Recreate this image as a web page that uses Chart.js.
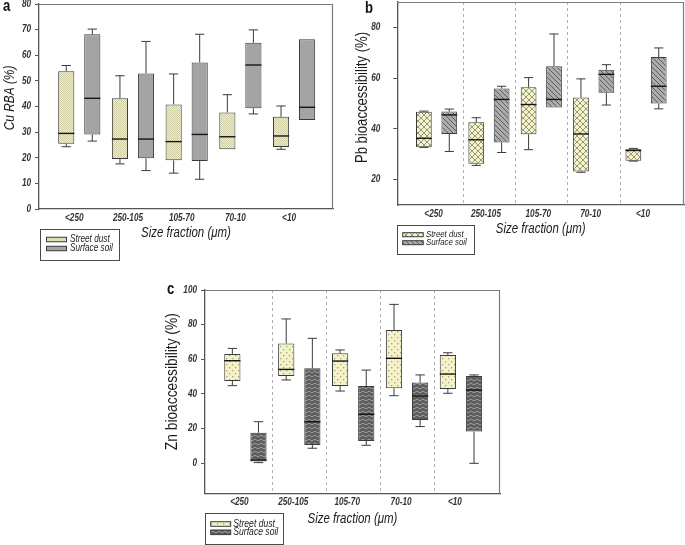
<!DOCTYPE html>
<html><head><meta charset="utf-8">
<script src="https://cdn.jsdelivr.net/npm/chart.js@4.4.0/dist/chart.umd.min.js"></script>
<style>
html,body{margin:0;padding:0;background:#fff;width:685px;height:545px;overflow:hidden;position:relative}
canvas{position:absolute}
</style></head><body>
<canvas id="ca"></canvas><canvas id="cb"></canvas><canvas id="cc"></canvas>
<script>
// ---------------- data ----------------
const categories = ['<250', '250-105', '105-70', '70-10', '<10'];
const seriesNames = ['Street dust', 'Surface soil'];
const xTitle = 'Size fraction (μm)';

// (a) Cu RBA (%)
const cuDustMin = [24.3, 17.6, 14.0, 23.3, 23.3];
const cuDustQ1  = [25.5, 19.5, 19.0, 23.3, 24.2];
const cuDustMed = [29.5, 27.3, 26.3, 28.2, 28.5];
const cuDustQ3  = [53.8, 43.2, 40.8, 37.7, 36.0];
const cuDustMax = [56.0, 52.0, 52.7, 44.6, 40.2];
const cuSoilMin = [26.5, 15.0, 11.6, 37.1, 34.7];
const cuSoilQ1  = [29.1, 19.8, 18.7, 39.3, 34.7];
const cuSoilMed = [43.2, 27.3, 29.1, 56.2, 39.7];
const cuSoilQ3  = [68.2, 52.9, 57.2, 64.9, 66.2];
const cuSoilMax = [70.2, 65.4, 68.2, 69.9, 66.2];
const cuTicks = [0, 10, 20, 30, 40, 50, 60, 70, 80];

// (b) Pb bioaccessibility (%)
const pbDustMin = [32.7, 25.6, 31.8, 22.9, 27.3];
const pbDustQ1  = [32.8, 26.3, 37.9, 23.2, 27.4];
const pbDustMed = [36.3, 35.7, 49.6, 38.0, 31.5];
const pbDustQ3  = [46.7, 42.6, 56.4, 52.4, 32.0];
const pbDustMax = [47.0, 44.4, 60.2, 59.7, 32.3];
const pbSoilMin = [31.1, 30.7, 48.4, 49.4, 47.9];
const pbSoilQ1  = [38.0, 34.6, 48.4, 54.2, 50.0];
const pbSoilMed = [45.5, 51.6, 51.6, 61.5, 56.8];
const pbSoilQ3  = [46.8, 55.9, 64.7, 63.3, 68.3];
const pbSoilMax = [47.8, 56.8, 77.4, 65.3, 71.9];
const pbTicks = [20, 40, 60, 80];

// (c) Zn bioaccessibility (%)
const znDustMin = [44.8, 48.1, 41.7, 39.0, 40.4];
const znDustQ1  = [47.5, 50.4, 44.6, 43.3, 42.9];
const znDustMed = [59.2, 54.2, 59.0, 60.6, 51.5];
const znDustQ3  = [63.1, 69.2, 63.5, 76.9, 62.5];
const znDustMax = [66.3, 83.3, 65.4, 91.7, 63.8];
const znSoilMin = [0.4, 8.7, 10.4, 21.2, 0.0];
const znSoilQ1  = [1.0, 10.6, 12.9, 25.0, 18.3];
const znSoilMed = [1.9, 24.0, 28.3, 38.8, 42.3];
const znSoilQ3  = [17.7, 54.8, 44.6, 46.7, 50.4];
const znSoilMax = [24.0, 72.1, 53.8, 51.0, 51.0];
const znTicks = [0, 20, 40, 60, 80, 100];

// ---------------- condensed text rendering (reference uses a narrow face) ----------------
const SQUEEZE = 0.82;
const _fillText = CanvasRenderingContext2D.prototype.fillText;
CanvasRenderingContext2D.prototype.fillText = function (t, x, y, mw) {
  this.save();
  this.translate(x, y);
  this.scale(SQUEEZE, 1);
  if (mw !== undefined && mw !== null) _fillText.call(this, t, 0, 0, mw / SQUEEZE);
  else _fillText.call(this, t, 0, 0);
  this.restore();
};
const _measureText = CanvasRenderingContext2D.prototype.measureText;
CanvasRenderingContext2D.prototype.measureText = function (t) {
  const m = _measureText.call(this, t);
  return {
    width: m.width * SQUEEZE,
    actualBoundingBoxAscent: m.actualBoundingBoxAscent,
    actualBoundingBoxDescent: m.actualBoundingBoxDescent,
    actualBoundingBoxLeft: m.actualBoundingBoxLeft * SQUEEZE,
    actualBoundingBoxRight: m.actualBoundingBoxRight * SQUEEZE
  };
};

// ---------------- styling helpers ----------------
const FONT = "'Liberation Sans',Arial,sans-serif";
Chart.defaults.font.family = FONT;

function makePattern(w, h, draw) {
  const c = document.createElement('canvas');
  c.width = w; c.height = h;
  const g = c.getContext('2d');
  draw(g, w, h);
  return g.createPattern(c, 'repeat');
}
const patDustA = makePattern(2, 2, (g) => {
  g.fillStyle = '#f1efc4'; g.fillRect(0, 0, 2, 2);
  g.fillStyle = '#cfcda4'; g.fillRect(0, 0, 1, 1); g.fillRect(1, 1, 1, 1);
});
const patSoilA = '#a4a4a4';
const patDustB = makePattern(6, 6, (g) => {
  g.fillStyle = '#f5f3c8'; g.fillRect(0, 0, 6, 6);
  g.strokeStyle = '#8e8c72'; g.lineWidth = 0.9;
  g.beginPath(); g.moveTo(0, 0); g.lineTo(6, 6); g.moveTo(6, 0); g.lineTo(0, 6); g.stroke();
});
const patSoilB = makePattern(5, 5, (g) => {
  g.fillStyle = '#ababab'; g.fillRect(0, 0, 5, 5);
  g.strokeStyle = '#565656'; g.lineWidth = 0.9;
  g.beginPath(); g.moveTo(-1, -1); g.lineTo(6, 6); g.moveTo(4, -1); g.lineTo(6, 1); g.moveTo(-1, 4); g.lineTo(1, 6); g.stroke();
});
const patDustC = makePattern(6, 6, (g) => {
  g.fillStyle = '#f5f3c6'; g.fillRect(0, 0, 6, 6);
  g.fillStyle = '#a4a288';
  g.fillRect(1, 1, 1.3, 1.3); g.fillRect(4, 4, 1.3, 1.3);
});
const patSoilC = makePattern(6, 4, (g) => {
  g.fillStyle = '#5c5c5c'; g.fillRect(0, 0, 6, 4);
  g.strokeStyle = '#a9a9a9'; g.lineWidth = 0.9;
  g.beginPath(); g.moveTo(0, 3); g.lineTo(3, 1); g.lineTo(6, 3); g.stroke();
});

// ---------------- box-plot plugin ----------------
const boxPlugin = {
  id: 'boxplot',
  beforeDatasetsDraw(chart, args, opts) {
    const { ctx, chartArea: a } = chart;
    ctx.save();
    if (opts.dividers) {
      const xs = chart.scales.x;
      ctx.setLineDash([3, 3]);
      ctx.strokeStyle = '#b0b0b0'; ctx.lineWidth = 1;
      for (let i = 0; i < categories.length - 1; i++) {
        const px = Math.round(xs.getPixelForValue(i + 0.5)) + 0.5;
        ctx.beginPath(); ctx.moveTo(px, a.top); ctx.lineTo(px, a.bottom); ctx.stroke();
      }
      ctx.setLineDash([]);
    }
    ctx.strokeStyle = '#7c7c7c'; ctx.lineWidth = 1.2;
    ctx.beginPath();
    ctx.moveTo(a.left, a.top + 0.5); ctx.lineTo(a.right - 0.5, a.top + 0.5); ctx.lineTo(a.right - 0.5, a.bottom);
    ctx.stroke();
    ctx.restore();
  },
  afterDatasetsDraw(chart) {
    const { ctx } = chart;
    const ys = chart.scales.y;
    ctx.save();
    chart.data.datasets.forEach((ds, di) => {
      const meta = chart.getDatasetMeta(di);
      const st = ds.stats;
      meta.data.forEach((bar, i) => {
        const x = bar.x, w = bar.width, cw = w * 0.58;
        const pMin = ys.getPixelForValue(st.min[i]);
        const pQ1 = ys.getPixelForValue(st.q1[i]);
        const pMed = ys.getPixelForValue(st.med[i]);
        const pQ3 = ys.getPixelForValue(st.q3[i]);
        const pMax = ys.getPixelForValue(st.max[i]);
        ctx.strokeStyle = '#3a3a3a'; ctx.lineWidth = 1;
        ctx.beginPath();
        if (st.max[i] > st.q3[i]) {
          ctx.moveTo(x, pQ3); ctx.lineTo(x, pMax);
          ctx.moveTo(x - cw / 2, pMax); ctx.lineTo(x + cw / 2, pMax);
        }
        if (st.min[i] < st.q1[i]) {
          ctx.moveTo(x, pQ1); ctx.lineTo(x, pMin);
          ctx.moveTo(x - cw / 2, pMin); ctx.lineTo(x + cw / 2, pMin);
        }
        ctx.stroke();
        ctx.strokeStyle = '#151515'; ctx.lineWidth = 1.4;
        ctx.beginPath(); ctx.moveTo(x - w / 2, pMed); ctx.lineTo(x + w / 2, pMed); ctx.stroke();
      });
    });
    ctx.restore();
  },
  afterDraw(chart, args, opts) {
    const { ctx } = chart;
    const [ox, oy] = opts.origin;
    const lg = opts.legend;
    ctx.save();
    // legend
    ctx.strokeStyle = '#4a4a4a'; ctx.lineWidth = 1;
    ctx.strokeRect(Math.round(lg.x - ox) + 0.5, Math.round(lg.y - oy) + 0.5, lg.w, lg.h);
    ctx.font = 'italic ' + lg.size + 'px ' + FONT;
    ctx.textBaseline = 'middle'; ctx.textAlign = 'left';
    chart.data.datasets.forEach((ds, di) => {
      const cyR = lg.rows[di] - oy;
      ctx.fillStyle = ds.backgroundColor;
      ctx.fillRect(lg.sx - ox, cyR - lg.sh / 2, lg.sw, lg.sh);
      ctx.strokeStyle = '#3a3a3a';
      ctx.strokeRect(lg.sx - ox, cyR - lg.sh / 2, lg.sw, lg.sh);
      ctx.fillStyle = '#222';
      ctx.fillText(ds.label, lg.tx - ox, cyR);
    });
    // y-axis title
    const yt = opts.yTitle;
    ctx.save();
    ctx.translate(yt.x - ox, yt.y - oy);
    ctx.rotate(-Math.PI / 2);
    ctx.font = yt.style + ' ' + yt.size + 'px ' + FONT;
    ctx.fillStyle = '#1a1a1a'; ctx.textAlign = 'center'; ctx.textBaseline = 'middle';
    ctx.fillText(yt.text, 0, 0);
    ctx.restore();
    // panel letter
    const lt = opts.letter;
    ctx.font = 'bold 16px ' + FONT;
    ctx.fillStyle = '#111'; ctx.textBaseline = 'alphabetic'; ctx.textAlign = 'left';
    ctx.fillText(lt.text, lt.x - ox, lt.y - oy);
    ctx.restore();
  }
};

// ---------------- panel builder ----------------
function buildPanel(id, L, dust, soil, yTicks) {
  const cv = document.getElementById(id);
  cv.width = L.canvas.w; cv.height = L.canvas.h;
  cv.style.left = L.canvas.x + 'px'; cv.style.top = L.canvas.y + 'px';
  const ox = L.canvas.x, oy = L.canvas.y;
  const loc = { l: L.area.l - ox, t: L.area.t - oy, r: L.area.r - ox, b: L.area.b - oy };
  const xH = 45;
  const xtLH = L.xTitleSize * 1.2;
  const mk = (s, name, bg) => ({
    label: name,
    backgroundColor: bg,
    borderColor: '#3a3a3a',
    borderWidth: 1,
    borderSkipped: false,
    data: categories.map((c, i) => ({ x: i, y: [s.q1[i], s.q3[i]] })),
    stats: s
  });
  const tickFont = { size: 10, style: 'italic', weight: 'bold' };
  return new Chart(cv, {
    type: 'bar',
    data: { datasets: [mk(dust, seriesNames[0], L.pats[0]), mk(soil, seriesNames[1], L.pats[1])] },
    plugins: [boxPlugin],
    options: {
      responsive: false, animation: false, devicePixelRatio: 1,
      layout: { padding: { left: 0, top: loc.t, right: L.canvas.w - loc.r, bottom: L.canvas.h - loc.b - xH } },
      datasets: { bar: { categoryPercentage: 0.97, barPercentage: 0.62 } },
      plugins: {
        legend: { display: false }, tooltip: { enabled: false },
        boxplot: { origin: [ox, oy], dividers: L.dividers, legend: L.legend, letter: L.letter, yTitle: L.yTitle }
      },
      scales: {
        x: {
          type: 'linear', min: -0.75, max: 4.725, offset: false,
          afterBuildTicks: (s) => { s.ticks = categories.map((c, i) => ({ value: i })); },
          afterFit: (s) => { s.height = xH; },
          grid: { display: false, drawTicks: false, offset: false },
          border: { display: true, color: '#555', width: 1.3 },
          ticks: {
            autoSkip: false, maxRotation: 0, minRotation: 0, padding: L.xTickPad, labelOffset: L.xLabelOffset,
            color: '#333', font: tickFont,
            callback: (v) => categories[v]
          },
          title: {
            display: true, text: xTitle, color: '#1a1a1a',
            font: { size: L.xTitleSize, style: 'italic', weight: 'normal' },
            padding: { top: 0, bottom: (loc.b + xH) - (L.xTitleY - oy) - xtLH / 2 }
          }
        },
        y: {
          min: L.yMin, max: L.yMax,
          afterBuildTicks: (s) => { s.ticks = yTicks.map((v) => ({ value: v })); },
          afterFit: (s) => { s.width = loc.l; },
          grid: { drawOnChartArea: false, drawTicks: true, tickLength: 4, color: '#555', lineWidth: 1 },
          border: { display: true, color: '#555', width: 1.3 },
          ticks: { padding: L.yTickPad, color: '#333', font: tickFont },
          title: { display: false }
        }
      }
    }
  });
}

buildPanel('ca', {
  canvas: { x: -20, y: -20, w: 365, h: 290 },
  area: { l: 39, t: 4, r: 333, b: 209 },
  yMin: 0, yMax: 80, yTickPad: 4,
  yTitle: { text: 'Cu RBA (%)', size: 14.5, style: 'italic', x: 10, y: 98 },
  xTitleSize: 14, xTitleY: 233, xTickPad: 3.5, xLabelOffset: -5,
  pats: [patDustA, patSoilA], dividers: false,
  legend: { x: 40, y: 229, w: 79, h: 31, sx: 46.5, sw: 20, sh: 4.5, rows: [239.5, 248.5], tx: 70, size: 10 },
  letter: { text: 'a', x: 3, y: 11 }
},
{ min: cuDustMin, q1: cuDustQ1, med: cuDustMed, q3: cuDustQ3, max: cuDustMax },
{ min: cuSoilMin, q1: cuSoilQ1, med: cuSoilMed, q3: cuSoilQ3, max: cuSoilMax }, cuTicks);

buildPanel('cb', {
  canvas: { x: 325, y: -20, w: 365, h: 320 },
  area: { l: 397.3, t: 2, r: 684, b: 205 },
  yMin: 10, yMax: 90, yTickPad: 13,
  yTitle: { text: 'Pb bioaccessibility (%)', size: 16, style: 'normal', x: 363, y: 97.5 },
  xTitleSize: 14, xTitleY: 229, xTickPad: 3, xLabelOffset: -3,
  pats: [patDustB, patSoilB], dividers: true,
  legend: { x: 397, y: 225, w: 77, h: 29, sx: 402.7, sw: 20.5, sh: 4, rows: [234.7, 242.7], tx: 426, size: 9.5 },
  letter: { text: 'b', x: 365, y: 13 }
},
{ min: pbDustMin, q1: pbDustQ1, med: pbDustMed, q3: pbDustQ3, max: pbDustMax },
{ min: pbSoilMin, q1: pbSoilQ1, med: pbSoilMed, q3: pbSoilQ3, max: pbSoilMax }, pbTicks);

buildPanel('cc', {
  canvas: { x: 150, y: 270, w: 370, h: 275 },
  area: { l: 205, t: 290, r: 500, b: 493.3 },
  yMin: -17.3, yMax: 100, yTickPad: 4,
  yTitle: { text: 'Zn bioaccessibility (%)', size: 16.8, style: 'normal', x: 172, y: 381.7 },
  xTitleSize: 14, xTitleY: 519.3, xTickPad: 3, xLabelOffset: -6,
  pats: [patDustC, patSoilC], dividers: true,
  legend: { x: 205, y: 513, w: 78, h: 31, sx: 210.7, sw: 20, sh: 4.6, rows: [524, 532.3], tx: 233.3, size: 10.5 },
  letter: { text: 'c', x: 167, y: 294 }
},
{ min: znDustMin, q1: znDustQ1, med: znDustMed, q3: znDustQ3, max: znDustMax },
{ min: znSoilMin, q1: znSoilQ1, med: znSoilMed, q3: znSoilQ3, max: znSoilMax }, znTicks);
</script>
</body></html>
